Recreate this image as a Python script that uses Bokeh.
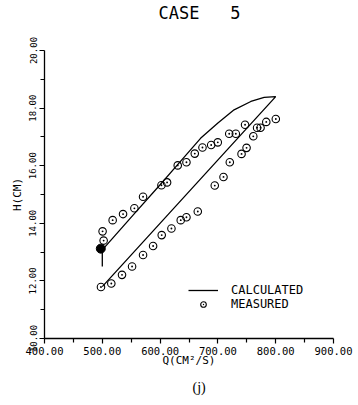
from bokeh.plotting import figure
from bokeh.models import Range1d, FixedTicker, PrintfTickFormatter, Legend, LegendItem, Title
from bokeh.embed import file_html
from bokeh.resources import INLINE

# Calculated loop: lower branch (rising) then upper branch (back down)
calc_q = [500, 560, 620, 680, 740, 800, 780, 757, 728, 700, 670, 630, 600, 554, 502]
calc_h = [11.80, 13.12, 14.44, 15.76, 17.08, 18.40, 18.37, 18.23, 17.94, 17.48, 16.95, 16.03, 15.34, 14.30, 13.12]

# Measured points, upper group
meas_up_q = [500.5, 502.3, 517.9, 535.9, 555.5, 570.5, 602.3, 612.1, 630.5, 645.6, 660.0,
             673.3, 688.4, 699.8, 719.6, 731.0, 747.0]
meas_up_h = [13.72, 13.40, 14.11, 14.32, 14.52, 14.92, 15.32, 15.42, 16.01, 16.12, 16.42,
             16.63, 16.72, 16.81, 17.11, 17.11, 17.42]
# Measured points, lower group
meas_lo_q = [497.7, 515.6, 534.1, 551.5, 570.5, 587.9, 602.8, 619.6, 635.7, 645.6, 665.2,
             694.6, 709.7, 720.6, 740.9, 749.6, 761.2, 767.8, 773.8, 783.7, 800.2]
meas_lo_h = [11.79, 11.91, 12.21, 12.50, 12.90, 13.21, 13.59, 13.82, 14.11, 14.21, 14.41,
             15.31, 15.61, 16.12, 16.41, 16.62, 17.02, 17.32, 17.32, 17.52, 17.62]
# Initial-state marker (filled) and its vertical stem
init_q = [497.4]
init_h = [13.12]
stem_q = [500.0]
stem_h0 = [13.10]
stem_h1 = [12.50]

x_ticks = [400, 500, 600, 700, 800, 900]
x_minor = [450, 550, 650, 750, 850]
y_ticks = [10, 12, 14, 16, 18, 20]
y_minor = [11, 13, 15, 17, 19]

title_text = "CASE\u00a0\u00a0\u00a05"
caption_text = "(j)"

MONO = "DejaVu Sans Mono"

p = figure(width=358, height=404, output_backend="svg", toolbar_location=None,
           x_range=Range1d(400, 900), y_range=Range1d(10, 20),
           min_border_left=44, min_border_right=25, min_border_top=48, min_border_bottom=66)
p.outline_line_color = None
p.xgrid.visible = False
p.ygrid.visible = False
p.background_fill_color = "white"
p.border_fill_color = "white"

p.title.text = title_text
p.title.align = "left"
p.title.offset = 114
p.title.text_font = MONO
p.title.text_font_size = "17px"
p.title.text_font_style = "normal"
p.title.text_color = "black"
p.title.standoff = 0

# empty spacer between title and plot frame
p.add_layout(Title(text="\u00a0", text_font_size="2px", standoff=24), "above")

for ax in (p.xaxis[0], p.yaxis[0]):
    ax.axis_line_color = "black"
    ax.axis_line_width = 1.3
    ax.major_tick_line_color = "black"
    ax.minor_tick_line_color = "black"
    ax.major_tick_line_width = 1.2
    ax.minor_tick_line_width = 1.2
    ax.major_tick_out = 5
    ax.major_tick_in = 0
    ax.minor_tick_out = 4
    ax.minor_tick_in = 0
    ax.major_label_text_font = MONO
    ax.axis_label_text_font = MONO
    ax.axis_label_text_font_style = "normal"
    ax.major_label_text_color = "black"
    ax.axis_label_text_color = "black"
    ax.formatter = PrintfTickFormatter(format="%.2f")

p.xaxis[0].ticker = FixedTicker(ticks=x_ticks, minor_ticks=x_minor)
p.yaxis[0].ticker = FixedTicker(ticks=y_ticks, minor_ticks=y_minor)
p.xaxis[0].major_label_text_font_size = "10.5px"
p.yaxis[0].major_label_text_font_size = "9px"
p.yaxis[0].major_label_orientation = "vertical"
p.xaxis[0].major_label_standoff = 3
p.yaxis[0].major_label_standoff = 3
p.xaxis[0].axis_label = "Q(CM²/S)"
p.yaxis[0].axis_label = "H(CM)"
p.xaxis[0].axis_label_text_font_size = "11px"
p.yaxis[0].axis_label_text_font_size = "11px"
p.xaxis[0].axis_label_standoff = -4
p.yaxis[0].axis_label_standoff = 3

calc = p.line(calc_q, calc_h, line_color="black", line_width=1.3)
p.segment(x0=stem_q, y0=stem_h0, x1=stem_q, y1=stem_h1, line_color="black", line_width=1.3)
meas = p.scatter(meas_up_q, meas_up_h, marker="circle_dot", size=7.5, line_color="black",
                 fill_color=None, line_width=1.1)
p.scatter(meas_lo_q, meas_lo_h, marker="circle_dot", size=7.5, line_color="black",
          fill_color=None, line_width=1.1)
p.scatter(init_q, init_h, marker="circle", size=9, line_color="black", fill_color="black")

legend = Legend(items=[LegendItem(label="CALCULATED", renderers=[calc]),
                       LegendItem(label="MEASURED", renderers=[meas])],
                location=(144, 27), glyph_width=30, glyph_height=14, label_standoff=13,
                label_height=12, spacing=0, padding=0, margin=0,
                border_line_color=None, background_fill_alpha=0,
                label_text_font=MONO, label_text_font_size="12px", label_text_color="black")
p.add_layout(legend)

p.add_layout(Title(text=caption_text, align="left", offset=148, text_font="Liberation Serif",
                   text_font_size="14px", text_font_style="normal", text_color="black",
                   standoff=16), "below")

open("out.html", "w").write(file_html(p, INLINE))
